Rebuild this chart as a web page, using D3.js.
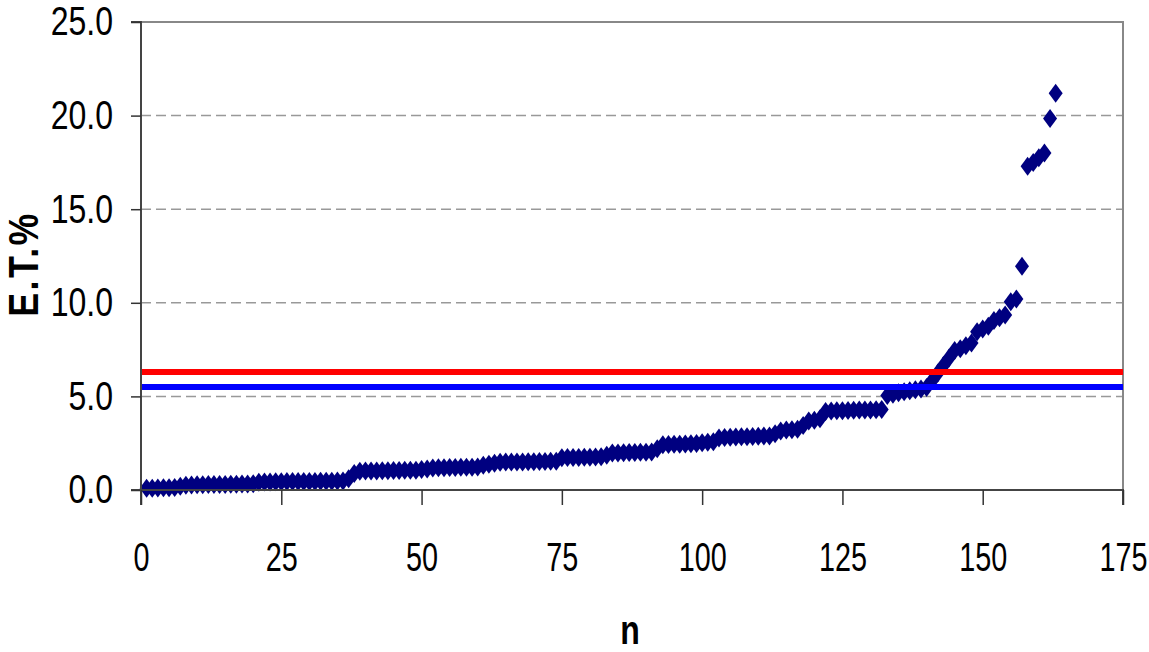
<!DOCTYPE html>
<html>
<head>
<meta charset="utf-8">
<script src="https://cdn.jsdelivr.net/npm/d3@7"></script>
<style>
  html, body { margin: 0; padding: 0; background: #fff; }
  svg { display: block; }
  .lbl { font-family: "Liberation Sans", Arial, sans-serif; }
</style>
</head>
<body>
<svg id="chart" width="1149" height="652"></svg>
<script>
// ---- data ----
const etValues = [
  0.10, 0.10, 0.11, 0.12, 0.12, 0.14,
  0.20,
  0.26, 0.27, 0.28, 0.28, 0.29, 0.29, 0.30, 0.30, 0.31, 0.31, 0.32, 0.32, 0.33,
  0.42, 0.43, 0.43, 0.44, 0.44, 0.45, 0.45, 0.45, 0.46, 0.46, 0.46, 0.47, 0.47, 0.47, 0.48, 0.48,
  0.60, 0.88,
  1.00, 1.01, 1.02, 1.02, 1.03, 1.03, 1.04, 1.04, 1.05, 1.05, 1.06,
  1.10, 1.12,
  1.18, 1.19, 1.19, 1.20, 1.20, 1.21, 1.21, 1.22, 1.23,
  1.32, 1.38, 1.43,
  1.48, 1.49, 1.49, 1.50, 1.50, 1.51, 1.51, 1.52, 1.52, 1.53, 1.54,
  1.72, 1.73, 1.74, 1.74, 1.75, 1.75, 1.76, 1.77,
  1.85,
  1.97, 1.98, 1.99, 2.00, 2.00, 2.01, 2.02, 2.03,
  2.20,
  2.42, 2.43, 2.44, 2.45, 2.46, 2.47, 2.49, 2.52, 2.55, 2.58,
  2.78, 2.80, 2.82, 2.83, 2.84, 2.85, 2.86, 2.87, 2.88, 2.89,
  3.00,
  3.15, 3.20, 3.22, 3.25,
  3.45,
  3.68, 3.72, 3.80,
  4.20, 4.22, 4.23, 4.24, 4.25, 4.26, 4.27, 4.27, 4.28, 4.29, 4.30,
  5.05, 5.12, 5.20, 5.25, 5.30, 5.35, 5.40, 5.48,
  5.85, 6.25, 6.65, 7.05,
  7.45, 7.55, 7.70, 7.85,
  8.45, 8.60, 8.75,
  9.05, 9.20, 9.35,
  10.05, 10.20,
  11.95,
  17.30, 17.50, 17.75, 18.00,
  19.85,
  21.20
];
const nValues = d3.range(1, etValues.length + 1);
const refLines = [
  { name: "red", value: 6.3, color: "#FF0000" },
  { name: "blue", value: 5.5, color: "#0000FF" }
];
const xTicks = [0, 25, 50, 75, 100, 125, 150, 175];
const yTicks = [0, 5, 10, 15, 20, 25];
const xTitle = "n";
const yTitle = "E.T.%";

// ---- helpers: horizontally condensed text via scale transform ----
function narrow(sel, f) {
  sel.each(function () {
    const s = d3.select(this);
    const x0 = +s.attr("x") || 0;
    const t0 = s.attr("transform") || "";
    s.attr("x", x0 / f).attr("transform", `${t0} scale(${f},1)`);
  });
}

// ---- layout ----
const svg = d3.select("#chart");
const pL = 141, pR = 1123, pT = 22, pB = 490;

const x = d3.scaleLinear().domain([0, 175]).range([pL, pR]);
const y = d3.scaleLinear().domain([0, 25]).range([pB, pT]);

// gridlines (dashed) for 5..20
svg.append("g")
  .selectAll("line")
  .data(yTicks.filter(t => t > 0 && t < 25))
  .join("line")
  .attr("x1", pL).attr("x2", pR)
  .attr("y1", d => y(d)).attr("y2", d => y(d))
  .attr("stroke", "#999")
  .attr("stroke-width", 1.5)
  .attr("stroke-dasharray", "10,5");

// plot border top & right (gray)
svg.append("path")
  .attr("d", `M${pL},${pT}H${pR}V${pB}`)
  .attr("fill", "none")
  .attr("stroke", "#888")
  .attr("stroke-width", 2);

// points
const diamond = "M0,-9.5L7,0L0,9.5L-7,0Z";
svg.append("g")
  .selectAll("path")
  .data(etValues)
  .join("path")
  .attr("d", diamond)
  .attr("transform", (d, i) => `translate(${x(nValues[i])},${y(d)})`)
  .attr("fill", "#000080");

// reference lines
svg.append("g")
  .selectAll("line")
  .data(refLines)
  .join("line")
  .attr("x1", pL).attr("x2", pR)
  .attr("y1", d => y(d.value)).attr("y2", d => y(d.value))
  .attr("stroke", d => d.color)
  .attr("stroke-width", 6);

// axes
const yAxis = d3.axisLeft(y).tickValues(yTicks).tickFormat(d3.format(".1f")).tickSize(10).tickPadding(18);
const gy = svg.append("g").attr("transform", `translate(${pL},0)`).call(yAxis);
gy.attr("font-family", null).attr("font-size", null);
gy.select(".domain").attr("stroke", "#444").attr("stroke-width", 2).attr("d", `M-10,${pT}H0V${pB}H-10`);
gy.selectAll(".tick line").attr("stroke", "#333").attr("stroke-width", 1.5);
gy.selectAll(".tick text")
  .attr("class", "lbl")
  .attr("font-size", 40)
  .attr("fill", "#000")
  .call(narrow, 0.8);

const xAxis = d3.axisBottom(x).tickValues(xTicks).tickFormat(d3.format("d")).tickSize(15).tickPadding(38);
const gx = svg.append("g").attr("transform", `translate(0,${pB})`).call(xAxis);
gx.attr("font-family", null).attr("font-size", null);
gx.select(".domain").attr("stroke", "#444").attr("stroke-width", 2).attr("d", `M${pL},15V0H${pR}V15`);
gx.selectAll(".tick line").attr("stroke", "#333").attr("stroke-width", 1.5);
gx.selectAll(".tick text")
  .attr("class", "lbl")
  .attr("font-size", 40)
  .attr("fill", "#000")
  .call(narrow, 0.72);

// axis titles
svg.append("text")
  .attr("class", "lbl")
  .attr("transform", "translate(38,264) rotate(-90)")
  .attr("text-anchor", "middle")
  .attr("font-size", 43)
  .attr("font-weight", "bold")
  .attr("letter-spacing", 3)
  .text(yTitle)
  .call(narrow, 0.83);

svg.append("text")
  .attr("class", "lbl")
  .attr("transform", "translate(630,644)")
  .attr("text-anchor", "middle")
  .attr("font-size", 40)
  .attr("font-weight", "bold")
  .text(xTitle)
  .call(narrow, 0.8);
</script>
</body>
</html>
